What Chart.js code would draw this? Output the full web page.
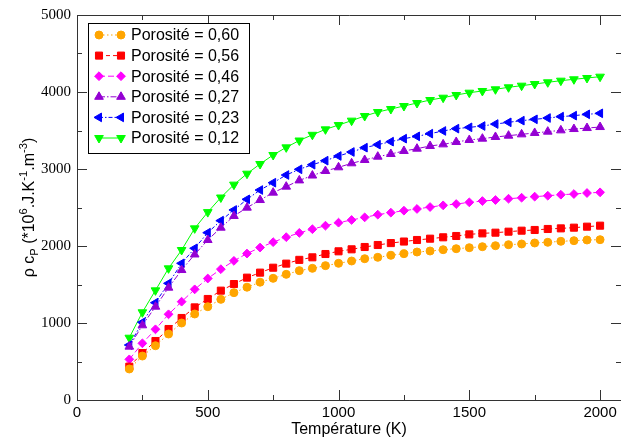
<!DOCTYPE html>
<html>
<head>
<meta charset="utf-8">
<script src="https://cdn.jsdelivr.net/npm/chart.js@4.4.1/dist/chart.umd.min.js"></script>
<style>
  html, body { margin: 0; padding: 0; background: #fff; overflow: hidden; }
  #wrap { width: 627px; height: 439px; position: relative; }
</style>
</head>
<body>
<div id="wrap"><canvas id="chart"></canvas></div>
<script>
const temperatures = [200, 250, 300, 350, 400, 450, 500, 550, 600, 650, 700, 750, 800, 850, 900, 950,
  1000, 1050, 1100, 1150, 1200, 1250, 1300, 1350, 1400, 1450, 1500, 1550, 1600, 1650, 1700, 1750,
  1800, 1850, 1900, 1950, 2000];

const poro060 = [403, 571, 705, 857, 1000, 1117, 1212, 1307, 1394, 1465, 1530, 1580, 1632, 1680, 1710, 1745,
  1775, 1805, 1835, 1853, 1879, 1900, 1922, 1935, 1952, 1965, 1978, 1991, 2004, 2017, 2026, 2039,
  2048, 2061, 2069, 2078, 2082];
const poro056 = [433, 610, 766, 922, 1065, 1203, 1312, 1420, 1506, 1589, 1654, 1718, 1771, 1820, 1853, 1896,
  1931, 1957, 1987, 2013, 2038, 2058, 2078, 2095, 2113, 2130, 2151, 2164, 2173, 2186, 2199, 2208,
  2221, 2229, 2238, 2251, 2264];
const poro046 = [528, 736, 918, 1113, 1277, 1437, 1578, 1699, 1807, 1902, 1980, 2050, 2115, 2170, 2218, 2264,
  2303, 2338, 2372, 2407, 2433, 2459, 2481, 2506, 2528, 2545, 2567, 2584, 2597, 2614, 2627, 2641,
  2653, 2666, 2675, 2688, 2697];
const poro027 = [693, 970, 1212, 1459, 1688, 1890, 2078, 2238, 2390, 2498, 2597, 2693, 2771, 2852, 2915, 2974,
  3022, 3074, 3117, 3160, 3195, 3234, 3264, 3299, 3320, 3351, 3377, 3394, 3416, 3433, 3450, 3468,
  3485, 3502, 3519, 3532, 3545];
const poro023 = [714, 1009, 1264, 1515, 1775, 1970, 2173, 2329, 2468, 2606, 2727, 2822, 2922, 2996, 3056, 3108,
  3169, 3221, 3277, 3316, 3355, 3394, 3424, 3459, 3494, 3524, 3541, 3558, 3584, 3606, 3628, 3645,
  3662, 3680, 3693, 3710, 3723];
const poro012 = [809, 1139, 1424, 1710, 1948, 2229, 2440, 2630, 2797, 2939, 3065, 3182, 3281, 3370, 3444, 3515,
  3571, 3628, 3688, 3740, 3779, 3818, 3857, 3896, 3926, 3961, 3991, 4013, 4035, 4061, 4082, 4104,
  4126, 4147, 4165, 4182, 4199];

const seriesLabels = ['Porosité = 0,60', 'Porosité = 0,56', 'Porosité = 0,46', 'Porosité = 0,27', 'Porosité = 0,23', 'Porosité = 0,12'];
const xTicks = [0, 500, 1000, 1500, 2000];
const yTicks = [0, 1000, 2000, 3000, 4000, 5000];

const sansFont = '"Liberation Sans", Arial, sans-serif';
const serifFont = '"Liberation Serif", "Times New Roman", serif';
const axisColor = '#333';

function serie(label, values, color, style, radius, rotation, dash) {
  return {
    label: label,
    data: temperatures.map((t, i) => ({ x: t, y: values[i] })),
    borderColor: color,
    backgroundColor: color,
    pointBackgroundColor: color,
    pointBorderColor: color,
    pointBorderWidth: 1,
    pointStyle: style,
    pointRadius: radius,
    pointRotation: rotation,
    borderWidth: 1,
    borderDash: dash,
    tension: 0,
    fill: false
  };
}

const datasets = [
  serie(seriesLabels[0], poro060, '#ffa500', 'circle', 4, 0, [1.5, 2.5]),
  serie(seriesLabels[1], poro056, '#ff0000', 'rect', 5, 0, [4, 3]),
  serie(seriesLabels[2], poro046, '#ff00ff', 'rectRot', 4.4, 0, [6, 3]),
  serie(seriesLabels[3], poro027, '#9400d3', 'triangle', 5, 0, [6, 2, 1.5, 2]),
  serie(seriesLabels[4], poro023, '#0000ff', 'triangle', 5, 270, [4, 2, 1.5, 2]),
  serie(seriesLabels[5], poro012, '#00ff00', 'triangle', 5, 180, [])
];

// frame + inward ticks on all four sides
const frameTicks = {
  id: 'frameTicks',
  afterDraw(chart) {
    const { ctx, chartArea: a, scales } = chart;
    const xs = scales.x, ys = scales.y;
    ctx.save();
    ctx.strokeStyle = axisColor;
    ctx.lineWidth = 1;
    ctx.beginPath();
    ctx.moveTo(a.left + 0.5, a.bottom + 0.5);
    ctx.lineTo(a.left + 0.5, a.top + 0.5);
    ctx.lineTo(a.right, a.top + 0.5);
    ctx.moveTo(a.left + 0.5, a.bottom + 0.5);
    ctx.lineTo(a.right, a.bottom + 0.5);
    for (let v = 0; v <= xs.max; v += 250) {
      const px = Math.round(xs.getPixelForValue(v)) + 0.5;
      const len = v % 500 === 0 ? 10 : 5;
      ctx.moveTo(px, a.bottom); ctx.lineTo(px, a.bottom - len);
      ctx.moveTo(px, a.top); ctx.lineTo(px, a.top + len);
    }
    for (let v = 0; v <= ys.max; v += 500) {
      const py = Math.round(ys.getPixelForValue(v)) + 0.5;
      const len = v % 1000 === 0 ? 10 : 5;
      ctx.moveTo(a.left, py); ctx.lineTo(a.left + len, py);
      ctx.moveTo(a.right, py); ctx.lineTo(a.right - len, py);
    }
    ctx.stroke();
    ctx.restore();
  }
};

// y title with sub / superscripts
const yTitle = {
  id: 'yTitle',
  afterDraw(chart) {
    const { ctx, chartArea: a } = chart;
    const size = 16;
    const parts = [
      ['ρ c', 0], ['P', 1], [' (*10', 0], ['6', -1], ['.J.K', 0], ['-1', -1], ['.m', 0], ['-3', -1], [')', 0]
    ];
    ctx.save();
    ctx.translate(34, (a.top + a.bottom) / 2);
    ctx.rotate(-Math.PI / 2);
    ctx.fillStyle = '#000';
    ctx.textBaseline = 'alphabetic';
    let total = 0;
    parts.forEach(p => {
      ctx.font = (p[1] ? size * 0.7 : size) + 'px ' + sansFont;
      total += ctx.measureText(p[0]).width;
    });
    let x = -total / 2;
    parts.forEach(p => {
      ctx.font = (p[1] ? size * 0.7 : size) + 'px ' + sansFont;
      const dy = p[1] === 1 ? 4 : (p[1] === -1 ? -7 : 0);
      ctx.fillText(p[0], x, dy);
      x += ctx.measureText(p[0]).width;
    });
    ctx.restore();
  }
};

// legend box with line sample and two markers
const boxLegend = {
  id: 'boxLegend',
  afterDraw(chart) {
    const ctx = chart.ctx;
    const left = 88, top = 23, w = 161, h = 130;
    ctx.save();
    ctx.fillStyle = '#fff';
    ctx.fillRect(left, top, w, h);
    ctx.strokeStyle = '#000';
    ctx.lineWidth = 1;
    ctx.strokeRect(left + 0.5, top + 0.5, w, h);
    chart.data.datasets.forEach((ds, i) => {
      const y = 35 + i * 20.6;
      ctx.strokeStyle = ds.borderColor;
      ctx.setLineDash(ds.borderDash);
      ctx.beginPath();
      ctx.moveTo(99, y); ctx.lineTo(121, y);
      ctx.stroke();
      ctx.setLineDash([]);
      ctx.fillStyle = ds.pointBackgroundColor;
      [99, 121].forEach(px => {
        Chart.helpers.drawPoint(ctx, { pointStyle: ds.pointStyle, rotation: ds.pointRotation, radius: ds.pointRadius, borderWidth: 1 }, px, y);
      });
      ctx.fillStyle = '#000';
      ctx.font = '16px ' + sansFont;
      ctx.textBaseline = 'middle';
      ctx.fillText(ds.label, 131, y + 1);
    });
    ctx.restore();
  }
};

new Chart(document.getElementById('chart'), {
  type: 'line',
  data: { datasets: datasets },
  plugins: [frameTicks, yTitle, boxLegend],
  options: {
    responsive: true,
    maintainAspectRatio: false,
    animation: false,
    layout: { padding: { top: 15, right: 0, left: 0, bottom: 0 } },
    plugins: {
      legend: { display: false },
      tooltip: { enabled: false }
    },
    scales: {
      x: {
        type: 'linear',
        min: 0,
        max: 2080,
        afterFit: s => { s.height = 39; s.paddingRight = 0; },
        afterBuildTicks: s => { s.ticks = xTicks.map(v => ({ value: v })); },
        grid: { display: false, drawTicks: false },
        border: { display: false },
        ticks: {
          color: '#000', padding: 4, maxRotation: 0, autoSkip: false,
          callback: v => String(v),
          font: { family: sansFont, size: 15 }
        },
        title: {
          display: true,
          text: 'Température (K)',
          color: '#000',
          padding: { top: 0, bottom: 0 },
          font: { family: sansFont, size: 16 }
        }
      },
      y: {
        type: 'linear',
        min: 0,
        max: 5000,
        afterFit: s => { s.width = 77; },
        afterBuildTicks: s => { s.ticks = yTicks.map(v => ({ value: v })); },
        grid: { display: false, drawTicks: false },
        border: { display: false },
        ticks: {
          color: '#000', padding: 6,
          callback: v => String(v),
          font: { family: serifFont, size: 15 }
        }
      }
    }
  }
});
</script>
</body>
</html>
